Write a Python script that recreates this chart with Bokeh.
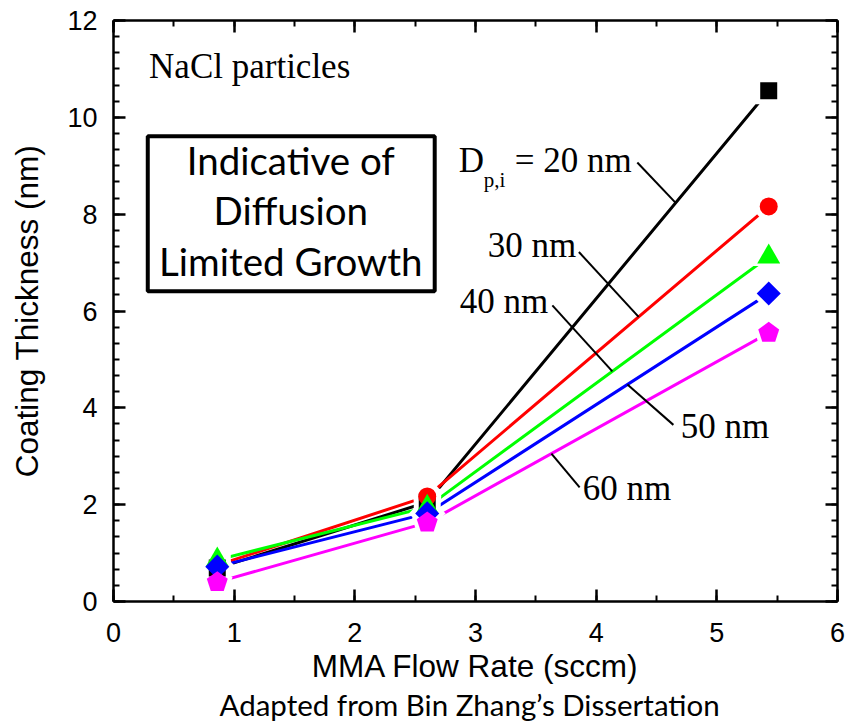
import numpy as np
from bokeh.plotting import figure
from bokeh.models import (Range1d, LinearAxis, SingleIntervalTicker, BoxAnnotation, Label,
                          CustomJSTickFormatter, Title)
from bokeh.embed import file_html
from bokeh.resources import INLINE

# ---------------- data ----------------
flow_rate = [0.86, 2.60, 5.43]           # MMA flow rate (sccm)
thick_20nm = [0.69, 2.05, 10.55]         # coating thickness (nm)
thick_30nm = [0.75, 2.17, 8.16]
thick_40nm = [0.86, 1.95, 7.12]
thick_50nm = [0.72, 1.82, 6.36]
thick_60nm = [0.40, 1.63, 5.55]
series_names = ["20 nm", "30 nm", "40 nm", "50 nm", "60 nm"]

x_min, x_max = 0, 6
y_min, y_max = 0, 12

# ---------------- figure ----------------
FW, FH = 724, 581
p = figure(frame_width=FW, frame_height=FH,
           x_range=Range1d(x_min, x_max), y_range=Range1d(y_min, y_max),
           output_backend="svg", toolbar_location=None,
           min_border_left=113, min_border_right=10,
           min_border_top=20, min_border_bottom=121,
           background_fill_color="white", border_fill_color="white")
p.grid.visible = False
p.outline_line_color = None

AX_FONT = "Liberation Sans"

def style_axis(ax, labels=True):
    ax.axis_line_width = 2.5
    ax.axis_line_color = "black"
    ax.major_tick_line_width = 2.5
    ax.minor_tick_line_width = 2
    ax.major_tick_in = 12
    ax.major_tick_out = 0
    ax.minor_tick_in = 6
    ax.minor_tick_out = 0
    if labels:
        ax.major_label_text_font = AX_FONT
        ax.major_label_text_font_size = "27px"
        ax.major_label_text_color = "black"
        ax.axis_label_text_font = AX_FONT
        ax.axis_label_text_font_size = "31.5px"
        ax.axis_label_text_font_style = "normal"
        ax.axis_label_text_color = "black"
    else:
        ax.formatter = CustomJSTickFormatter(code="return ''")
        ax.major_label_standoff = 0

p.xaxis.ticker = SingleIntervalTicker(interval=1, num_minor_ticks=2)
p.yaxis.ticker = SingleIntervalTicker(interval=2, num_minor_ticks=6)
for ax in p.xaxis:
    style_axis(ax)
    ax.axis_label = "MMA Flow Rate (sccm)"
    ax.major_label_standoff = 21
    ax.axis_label_standoff = 3
for ax in p.yaxis:
    style_axis(ax)
    ax.axis_label = "Coating Thickness (nm)"
    ax.major_label_standoff = 16
    ax.axis_label_standoff = 19

top = LinearAxis(ticker=SingleIntervalTicker(interval=1, num_minor_ticks=2))
style_axis(top, labels=False)
p.add_layout(top, "above")
right = LinearAxis(ticker=SingleIntervalTicker(interval=2, num_minor_ticks=6))
style_axis(right, labels=False)
p.add_layout(right, "right")

# caption under the axis title
caption = Title(text="Adapted from Bin Zhang\u2019s Dissertation", align="left",
                text_font="Lato", text_font_size="29.5px", text_font_style="normal",
                text_color="black", standoff=-3, offset=106)
p.add_layout(caption, "below")

# ---------------- series ----------------
colors = ["#000000", "#ff0000", "#00ff00", "#0000ff", "#ff00ff"]
series = [thick_20nm, thick_30nm, thick_40nm, thick_50nm, thick_60nm]

for ys, c in zip(series, colors):
    p.line(flow_rate, ys, line_color=c, line_width=3)

# pentagon geometry (screen px -> data units)
ux = FW / (x_max - x_min)
uy = FH / (y_max - y_min)
ang = np.pi / 2 + np.arange(5) * 2 * np.pi / 5

def pentagons(xs, ys, r):
    return ([list(xv + r * np.cos(ang) / ux) for xv in xs],
            [list(yv + r * np.sin(ang) / uy) for yv in ys])

# white halos so lines stop short of the markers
p.scatter(flow_rate, thick_20nm, marker="square", size=27, fill_color="white", line_color=None)
p.scatter(flow_rate, thick_30nm, marker="circle", size=28, fill_color="white", line_color=None)
p.scatter(flow_rate, thick_40nm, marker="triangle", size=32, fill_color="white", line_color=None)
p.scatter(flow_rate, thick_50nm, marker="square", angle=np.pi / 4, size=26, fill_color="white", line_color=None)
hx, hy = pentagons(flow_rate, thick_60nm, 16)
p.patches(hx, hy, fill_color="white", line_color=None)

# markers
p.scatter(flow_rate, thick_20nm, marker="square", size=17, fill_color=colors[0], line_color=None)
p.scatter(flow_rate, thick_30nm, marker="circle", size=18, fill_color=colors[1], line_color=None)
p.scatter(flow_rate, thick_40nm, marker="triangle", size=23, fill_color=colors[2], line_color=None)
p.scatter(flow_rate, thick_50nm, marker="square", angle=np.pi / 4, size=17, fill_color=colors[3], line_color=None)
px_, py_ = pentagons(flow_rate, thick_60nm, 11)
p.patches(px_, py_, fill_color=colors[4], line_color=None)

# ---------------- leader lines ----------------
leader_start_x = [4.341, 3.857, 3.637, 4.640, 3.863]
leader_start_y = [9.067, 7.218, 6.116, 3.648, 2.358]
leader_end_x = [4.659, 4.352, 4.134, 4.259, 3.629]
leader_end_y = [float(np.interp(xe, flow_rate, ys)) for xe, ys in zip(leader_end_x, series)]
p.segment(leader_start_x, leader_start_y, leader_end_x, leader_end_y,
          line_color="black", line_width=2)

# ---------------- annotations ----------------
SERIF = "Liberation Serif"

def lab(x, y, text, font, size, align="left"):
    p.add_layout(Label(x=x, y=y, text=text, text_font=font, text_font_size=size,
                       text_align=align, text_baseline="alphabetic", text_color="black"))

lab(0.295, 11.06, "NaCl particles", SERIF, "35px")
lab(2.861, 9.104, "D", SERIF, "35px")
lab(3.068, 8.705, "p,i", SERIF, "21px")
lab(3.325, 9.104, "= 20 nm", SERIF, "35px")
lab(3.101, 7.348, series_names[1], SERIF, "35px")
lab(2.869, 6.206, series_names[2], SERIF, "35px")
lab(4.700, 3.624, series_names[3], SERIF, "35px")
lab(3.888, 2.344, series_names[4], SERIF, "35px")

box = BoxAnnotation(left=0.284, right=2.662, bottom=6.41, top=9.61,
                    fill_color="white", fill_alpha=1.0,
                    line_color="black", line_width=4, line_alpha=1.0)
p.add_layout(box)
BOXFONT = "Lato"
lab(1.469, 9.128, "Indicative of", BOXFONT, "38.5px", align="center")
lab(1.469, 8.095, "Diffusion", BOXFONT, "38.5px", align="center")
lab(1.469, 7.028, "Limited Growth", BOXFONT, "38.5px", align="center")

open("out.html", "w").write(file_html(p, INLINE))
